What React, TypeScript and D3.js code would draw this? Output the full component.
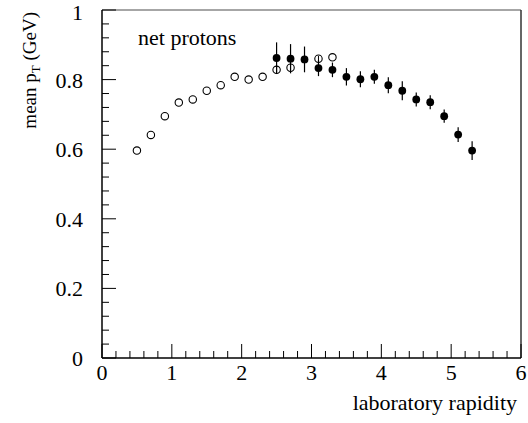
import React from "react";
import * as d3 from "d3";

const openX = [0.5, 0.7, 0.9, 1.1, 1.3, 1.5, 1.7, 1.9, 2.1, 2.3, 2.5, 2.7, 3.1, 3.3];
const openY = [0.596, 0.641, 0.695, 0.734, 0.743, 0.768, 0.784, 0.808, 0.8, 0.808, 0.828, 0.834, 0.86, 0.864];
const openErr = [0, 0, 0, 0, 0, 0, 0, 0, 0, 0, 0.012, 0.012, 0.008, 0];

const fullX = [2.5, 2.7, 2.9, 3.1, 3.3, 3.5, 3.7, 3.9, 4.1, 4.3, 4.5, 4.7, 4.9, 5.1, 5.3];
const fullY = [0.862, 0.86, 0.858, 0.833, 0.828, 0.808, 0.801, 0.808, 0.784, 0.768, 0.743, 0.735, 0.695, 0.642, 0.596];
const fullErr = [0.045, 0.042, 0.037, 0.023, 0.021, 0.025, 0.023, 0.02, 0.023, 0.027, 0.02, 0.02, 0.019, 0.021, 0.027];

const xTickLabels = ["0", "1", "2", "3", "4", "5", "6"];
const yTickLabels = ["0", "0.2", "0.4", "0.6", "0.8", "1"];

export default function App() {
  const W = 528, H = 423;
  const x = d3.scaleLinear().domain([0, 6]).range([102, 521]);
  const y = d3.scaleLinear().domain([0, 1]).range([358, 10]);
  const font = "'Liberation Serif', 'Times New Roman', serif";

  const xMinor = d3.range(0, 30).map((i) => i * 0.2).filter((_, i) => i % 5 !== 0);
  const yMinor = d3.range(0, 25).map((i) => i * 0.04).filter((_, i) => i % 5 !== 0);

  return (
    <svg width={W} height={H} style={{ position: "absolute", left: 0, top: 0 }}>
      <rect width={W} height={H} fill="white" />
      {/* frame */}
      <line x1={x(0)} x2={x(6)} y1={y(1)} y2={y(1)} stroke="#888" strokeWidth={1.5} />
      <line x1={x(6)} x2={x(6)} y1={y(1)} y2={y(0)} stroke="#333" strokeWidth={1.5} />
      <line x1={x(0)} x2={x(6)} y1={y(0)} y2={y(0)} stroke="#000" strokeWidth={1.5} />
      <line x1={x(0)} x2={x(0)} y1={y(1)} y2={y(0)} stroke="#000" strokeWidth={1.5} />
      {/* x ticks */}
      {xTickLabels.map((t) => (
        <g key={"xt" + t}>
          <line x1={x(+t)} x2={x(+t)} y1={y(0)} y2={y(0) - 14} stroke="#000" />
          <text x={x(+t)} y={380} fontFamily={font} fontSize={22} textAnchor="middle">{t}</text>
        </g>
      ))}
      {xMinor.map((v) => (
        <line key={"xm" + v} x1={x(v)} x2={x(v)} y1={y(0)} y2={y(0) - 7} stroke="#000" />
      ))}
      {/* y ticks */}
      {yTickLabels.map((t) => (
        <g key={"yt" + t}>
          <line x1={x(0)} x2={x(0) + 14} y1={y(+t)} y2={y(+t)} stroke="#000" />
          <text x={83} y={Math.max(y(+t) + 8, 20)} fontFamily={font} fontSize={22} textAnchor="end">{t}</text>
        </g>
      ))}
      {yMinor.map((v) => (
        <line key={"ym" + v} x1={x(0)} x2={x(0) + 7} y1={y(v)} y2={y(v)} stroke="#000" />
      ))}
      {/* axis titles */}
      <text x={517} y={410} fontFamily={font} fontSize={22} textAnchor="end">laboratory rapidity</text>
      <text transform="translate(36,12) rotate(-90)" fontFamily={font} fontSize={19} textAnchor="end">
        mean p<tspan fontSize={13} dy={4}>T</tspan><tspan dy={-4}> (GeV)</tspan>
      </text>
      <text x={138} y={45} fontFamily={font} fontSize={22}>net protons</text>
      {/* open circles */}
      {openX.map((v, i) => (
        <g key={"o" + i}>
          {openErr[i] > 0 && (
            <line x1={x(v)} x2={x(v)} y1={y(openY[i] + openErr[i])} y2={y(openY[i] - openErr[i])} stroke="#000" strokeWidth={1} />
          )}
          <circle cx={x(v)} cy={y(openY[i])} r={3.7} fill="none" stroke="#000" strokeWidth={1.1} />
        </g>
      ))}
      {/* filled circles */}
      {fullX.map((v, i) => (
        <g key={"f" + i}>
          <line x1={x(v)} x2={x(v)} y1={y(fullY[i] + fullErr[i])} y2={y(fullY[i] - fullErr[i])} stroke="#000" strokeWidth={1.2} />
          <circle cx={x(v)} cy={y(fullY[i])} r={3.9} fill="#000" />
        </g>
      ))}
    </svg>
  );
}
